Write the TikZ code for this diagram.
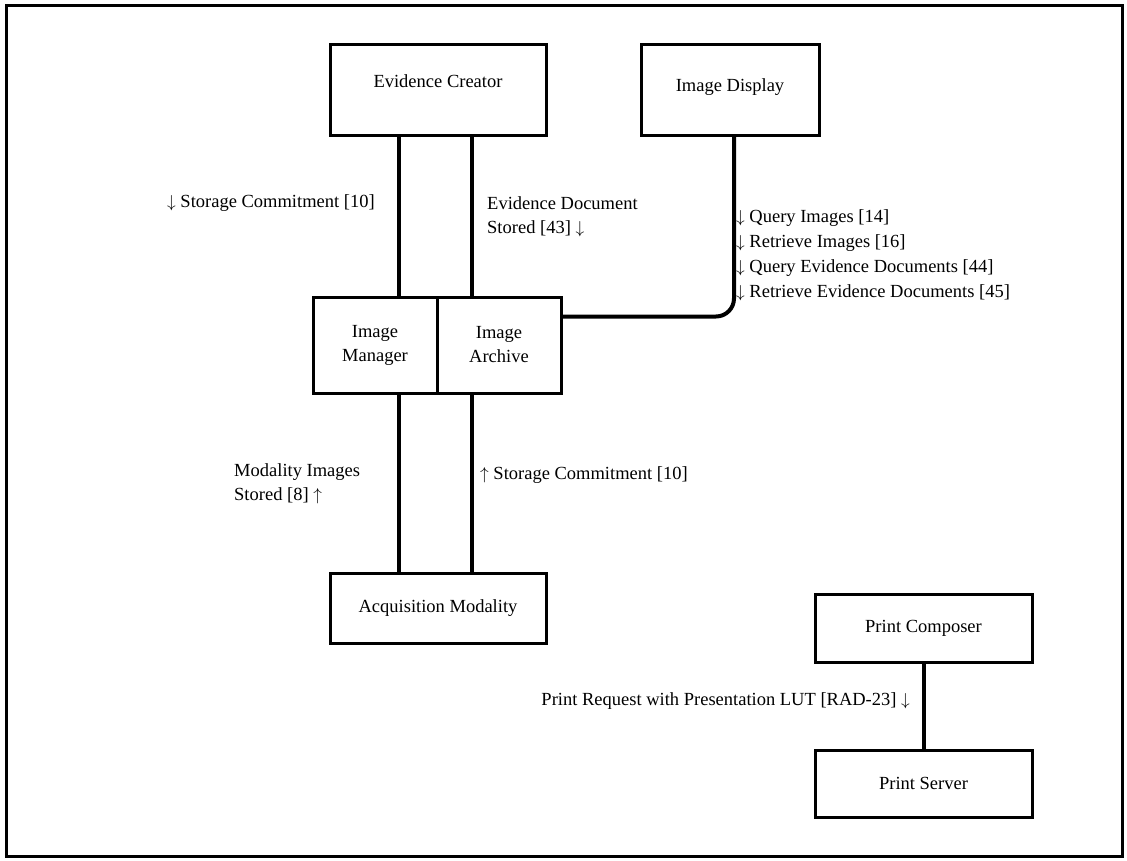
\documentclass[tikz,border=0pt]{standalone}
\usepackage{fontspec}
\setmainfont{Liberation Serif}
\usetikzlibrary{calc}
\begin{document}
\begin{tikzpicture}[x=1pt,y=-1pt,
  box/.style={draw, line width=3pt, rectangle, inner sep=0pt, align=center,
    font=\fontsize{18.5}{24}\selectfont},
  conn/.style={line width=4pt},
  lbl/.style={inner sep=0pt, align=left, font=\fontsize{18.5}{24}\selectfont},
  qlbl/.style={inner sep=0pt, align=left, font=\fontsize{18.5}{25}\selectfont}]
\useasboundingbox (0,0) rectangle (1127,860);
\draw[line width=3pt] (6,5) rectangle (1122,856);

\node[box, minimum width=216pt, minimum height=91pt,
  label={[lbl, anchor=center, yshift=8.5pt]center:Evidence Creator}] (ec) at (438,89.5) {};
\node[box, minimum width=178pt, minimum height=91pt,
  label={[lbl, anchor=center, yshift=2.5pt]center:Image Display}] (id) at (730,89.5) {};
\node[box, minimum width=124pt, minimum height=96pt] (im) at (375,345) {Image\\Manager};
\node[box, minimum width=124pt, minimum height=96pt] (ia) at (499,345) {Image\\Archive};
\node[box, minimum width=216pt, minimum height=70pt] (am) at (438,608) {Acquisition Modality};
\node[box, minimum width=217pt, minimum height=68pt] (pc) at (923.5,628) {Print Composer};
\node[box, minimum width=217pt, minimum height=67pt] (ps) at (923.5,783.5) {Print Server};

% connectors Evidence Creator -> Image Manager / Archive
\draw[conn] ([xshift=24pt]im.north) -- ([xshift=24pt]im.north |- ec.south);
\draw[conn] ([xshift=-27pt]ia.north) -- ([xshift=-27pt]ia.north |- ec.south);
% connectors Image Manager / Archive -> Acquisition Modality
\draw[conn] ([xshift=24pt]im.south) -- ([xshift=24pt]im.south |- am.north);
\draw[conn] ([xshift=-27pt]ia.south) -- ([xshift=-27pt]ia.south |- am.north);
% Image Display -> Image Archive
\draw[conn, rounded corners=18pt] ([xshift=4pt]id.south) |- ([yshift=28.5pt]ia.east);
% Print Composer -> Print Server
\draw[conn] (pc.south) -- (ps.north);

% labels
\node[lbl, anchor=west] (l1) at (167,203) {$\downarrow$ Storage Commitment [10]};
\node[lbl, anchor=west] (l2) at (487,216.5) {Evidence Document\\Stored [43] $\downarrow$};
\node[qlbl, anchor=west] (l3) at (736,255.5) {$\downarrow$ Query Images [14]\\$\downarrow$ Retrieve Images [16]\\$\downarrow$ Query Evidence Documents [44]\\$\downarrow$ Retrieve Evidence Documents [45]};
\node[lbl, anchor=west] (l4) at (234,483.5) {Modality Images\\Stored [8] $\uparrow$};
\node[lbl, anchor=west] (l5) at (480,475) {$\uparrow$ Storage Commitment [10]};
\node[lbl, anchor=east] (l6) at (910,701) {Print Request with Presentation LUT [RAD-23] $\downarrow$};
\end{tikzpicture}
\end{document}
